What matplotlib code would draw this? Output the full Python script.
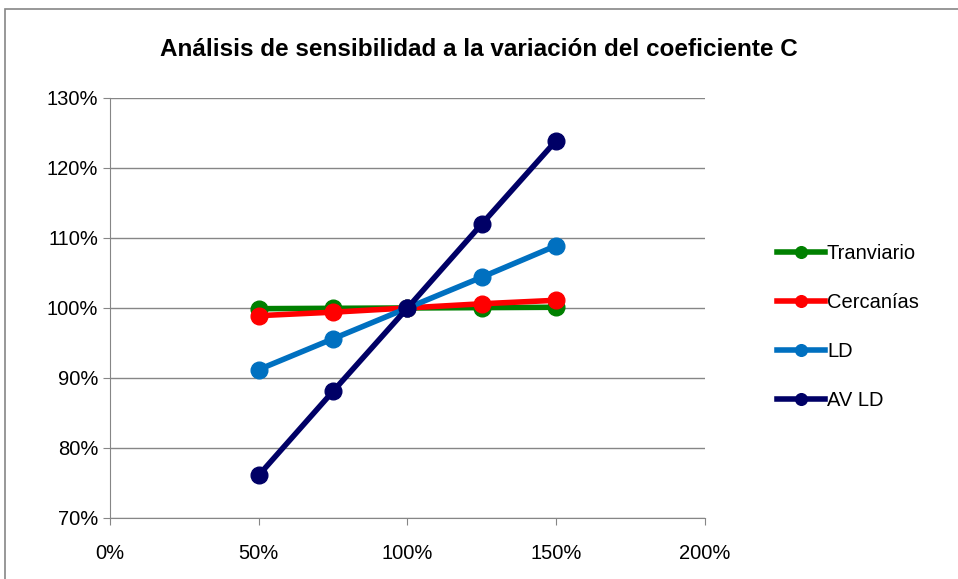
import numpy as np
import matplotlib.pyplot as plt
from matplotlib.ticker import PercentFormatter
from matplotlib.patches import Rectangle

plt.rcParams['font.family'] = ['Liberation Sans', 'DejaVu Sans']

x = [50, 75, 100, 125, 150]
tranviario = [99.9, 99.95, 100.0, 100.05, 100.1]
cercanias = [98.9, 99.4, 100.0, 100.6, 101.1]
ld = [91.2, 95.6, 100.0, 104.4, 108.9]
av_ld = [76.1, 88.1, 100.0, 112.0, 123.9]

series = [('Tranviario', tranviario, '#008000'),
          ('Cercanías', cercanias, '#ff0000'),
          ('LD', ld, '#0070c0'),
          ('AV LD', av_ld, '#000066')]

fig = plt.figure(figsize=(9.58, 5.79), dpi=100)
ax = fig.add_axes([0.1148, 0.1054, 0.621, 0.7254])

for name, vals, col in series:
    ax.plot(x, vals, color=col, lw=4, marker='o', ms=12, label=name, zorder=3)

ax.set_xlim(0, 200)
ax.set_ylim(70, 130)
ax.set_xticks(np.arange(0, 201, 50))
ax.set_yticks(np.arange(70, 131, 10))
ax.xaxis.set_major_formatter(PercentFormatter(decimals=0))
ax.yaxis.set_major_formatter(PercentFormatter(decimals=0))
ax.tick_params(labelsize=14.5, direction='out', length=5, color='#868686')
ax.tick_params(axis='x', pad=14)
ax.grid(axis='y', color='#868686', lw=1)
ax.set_axisbelow(True)
for s in ['top', 'right']:
    ax.spines[s].set_visible(False)
for s in ['left', 'bottom']:
    ax.spines[s].set_color('#868686')

fig.text(0.5, 0.915, 'Análisis de sensibilidad a la variación del coeficiente C',
         ha='center', va='center', fontsize=17.5, fontweight='bold')

ax.legend(loc='center left', bbox_to_anchor=(1.09, 0.455), frameon=False,
          fontsize=14.5, handlelength=2.4, handletextpad=0.1, labelspacing=1.5,
          markerscale=0.7)

fig.patches.append(Rectangle((0.005, -0.02), 1.1, 1.005, transform=fig.transFigure,
                             fill=False, edgecolor='#868686', lw=1.2))

fig.savefig('out.png', dpi=100)
